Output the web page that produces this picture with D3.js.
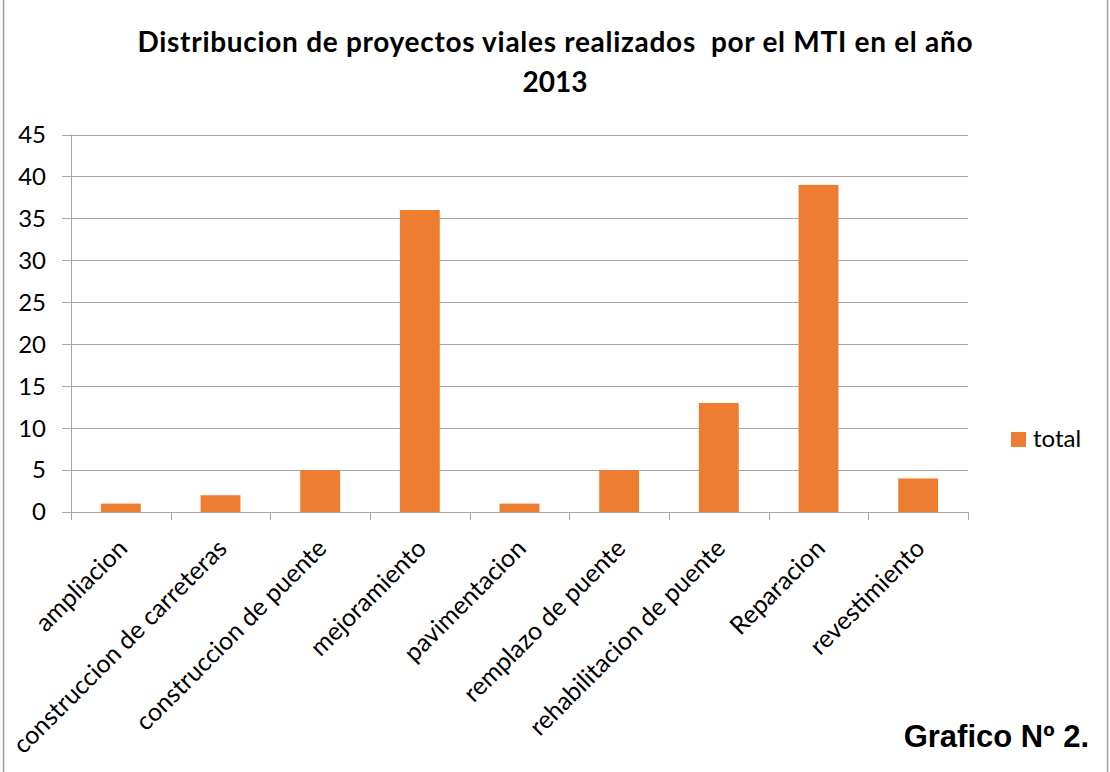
<!DOCTYPE html>
<html>
<head>
<meta charset="utf-8">
<script src="https://cdn.jsdelivr.net/npm/d3@7.9.0/dist/d3.min.js"></script>
<style>
  body { margin: 0; background: #fff; }
  svg { display: block; font-family: Lato, "Open Sans", sans-serif; }
</style>
</head>
<body>
<svg id="chart" width="1110" height="772"></svg>
<script>
const categories = [
  'ampliacion', 'construccion de carreteras', 'construccion de puente',
  'mejoramiento', 'pavimentacion', 'remplazo de puente',
  'rehabilitacion de puente', 'Reparacion', 'revestimiento'
];
const totals = [1, 2, 5, 36, 1, 5, 13, 39, 4];
const yTicks = [0, 5, 10, 15, 20, 25, 30, 35, 40, 45];
const titleLines = ['Distribucion de proyectos viales realizados  por el MTI en el año', '2013'];
const seriesName = 'total';

const svg = d3.select('#chart');
const margin = { left: 71, right: 142, top: 134.5, bottom: 260 };
const width = 1110, height = 772;

// outer frame (only the side edges show in the picture)
svg.append('rect')
  .attr('x', 3.5).attr('y', -5).attr('width', 1104).attr('height', 790)
  .attr('fill', 'none').attr('stroke', '#a0a0a0').attr('stroke-width', 1.5);

let x = d3.scaleBand()
  .domain(categories)
  .range([margin.left, width - margin.right])
  .paddingInner(0.6).paddingOuter(0.3);

let y = d3.scaleLinear()
  .domain([0, 45])
  .range([512, margin.top]);

// gridlines
svg.append('g')
  .selectAll('line')
  .data(yTicks)
  .join('line')
  .attr('x1', 62).attr('x2', width - margin.right)
  .attr('y1', (d) => Math.round(y(d)) + 0.5).attr('y2', (d) => Math.round(y(d)) + 0.5)
  .attr('stroke', '#a6a6a6').attr('stroke-width', 1);

// y labels
svg.append('g')
  .selectAll('text')
  .data(yTicks)
  .join('text')
  .attr('x', 46).attr('y', (d) => y(d))
  .attr('dy', '0.35em')
  .attr('text-anchor', 'end')
  .attr('font-size', 24)
  .attr('fill', '#000')
  .text((d) => d);

// bars
svg.append('g')
  .selectAll('rect')
  .data(totals)
  .join('rect')
  .attr('x', (d, i) => x(categories[i]))
  .attr('y', (d) => y(d))
  .attr('width', x.bandwidth())
  .attr('height', (d) => y(0) - y(d))
  .attr('fill', '#ed7d31');

// x axis line and category ticks
let step = x.step();
let edges = d3.range(categories.length + 1).map((i) => margin.left + i * step);
svg.append('line')
  .attr('x1', 62).attr('x2', width - margin.right)
  .attr('y1', 512.5).attr('y2', 512.5)
  .attr('stroke', '#a6a6a6');
svg.append('g')
  .selectAll('line')
  .data(edges)
  .join('line')
  .attr('x1', (d) => Math.round(d) + 0.5).attr('x2', (d) => Math.round(d) + 0.5)
  .attr('y1', (d, i) => i === 0 ? y(45) : 512).attr('y2', 520)
  .attr('stroke', '#a6a6a6');

// rotated category labels
svg.append('g')
  .selectAll('text')
  .data(categories)
  .join('text')
  .attr('transform', (d) => `translate(${x(d) + x.bandwidth() / 2 + 8},${550}) rotate(-45)`)
  .attr('text-anchor', 'end')
  .attr('font-size', 25)
  .attr('fill', '#000')
  .text((d) => d);

// title
svg.append('g')
  .selectAll('text')
  .data(titleLines)
  .join('text')
  .attr('x', 555).attr('y', (d, i) => 52 + i * 40)
  .attr('text-anchor', 'middle')
  .attr('font-size', 28)
  .attr('font-weight', 'bold')
  .attr('fill', '#000')
  .style('white-space', 'pre')
  .attr('textLength', (d, i) => i === 0 ? 835 : null)
  .attr('lengthAdjust', 'spacing')
  .text((d) => d);

// legend
svg.append('rect')
  .attr('x', 1011).attr('y', 432).attr('width', 15).attr('height', 15)
  .attr('fill', '#ed7d31');
svg.append('text')
  .attr('x', 1033).attr('y', 447)
  .attr('font-size', 24)
  .attr('fill', '#000')
  .text(seriesName);

// caption
svg.append('text')
  .attr('x', 1089).attr('y', 747)
  .attr('text-anchor', 'end')
  .attr('font-family', '"Liberation Sans", Arial, sans-serif')
  .attr('font-weight', 'bold')
  .attr('font-size', 31)
  .attr('fill', '#000')
  .text('Grafico Nº 2.');
</script>
</body>
</html>
